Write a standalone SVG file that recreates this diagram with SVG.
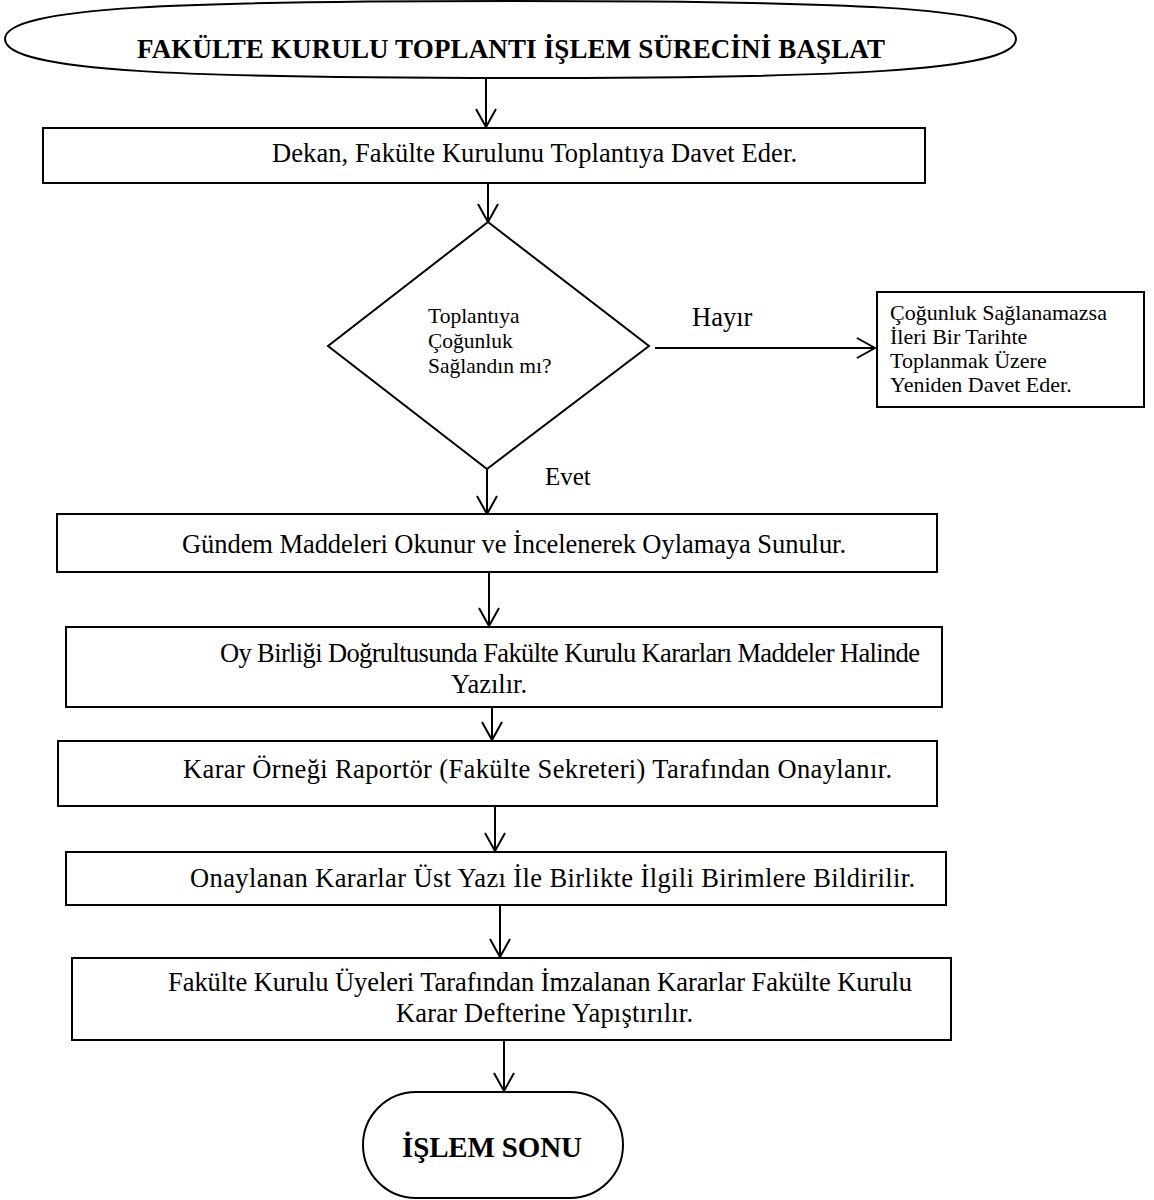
<svg xmlns="http://www.w3.org/2000/svg" width="1154" height="1200" viewBox="0 0 1154 1200">
  <style>
    .shape { fill: #fff; stroke: #000; stroke-width: 2; }
    .txt { font-family: "Liberation Serif", "Times New Roman", serif; fill: #000; }
    .main { font-size: 26.5px; }
    .small { font-size: 21.5px; }
    .bold { font-weight: bold; }
    .wire { fill: none; stroke: #000; stroke-width: 2; }
  </style>
  <defs>
    <marker id="arrow" viewBox="0 0 20 22" refX="19" refY="11" markerWidth="20" markerHeight="22" markerUnits="userSpaceOnUse" orient="auto">
      <path d="M1,1 L19,11 L1,21" fill="none" stroke="#000" stroke-width="2"/>
    </marker>
  </defs>

  <rect width="1154" height="1200" fill="#fff"/>

  <!-- start terminal: wide capsule with soft elliptical ends -->
  <g id="start">
    <path class="shape" d="M5,39 C5,6 190,1 511,1 C832,1 1016,6 1016,39 C1016,72 832,78 511,78 C190,78 5,72 5,39 Z"/>
    <text class="txt bold" x="137" y="58" font-size="27" textLength="748">FAKÜLTE KURULU TOPLANTI İŞLEM SÜRECİNİ BAŞLAT</text>
  </g>

  <g id="invite">
    <rect class="shape" x="43" y="128" width="882" height="55"/>
    <text class="txt main" x="272" y="162" textLength="525">Dekan, Fakülte Kurulunu Toplantıya Davet Eder.</text>
  </g>

  <g id="quorum">
    <polygon class="shape" points="488,222 649,346 487,469 328,346"/>
    <text class="txt small" x="428" y="323">Toplantıya</text>
    <text class="txt small" x="428" y="348">Çoğunluk</text>
    <text class="txt small" x="428" y="373">Sağlandın mı?</text>
  </g>

  <g id="reinvite">
    <rect class="shape" x="877" y="292" width="267" height="115"/>
    <text class="txt" x="890" y="320" font-size="22">Çoğunluk Sağlanamazsa</text>
    <text class="txt" x="890" y="344" font-size="22">İleri Bir Tarihte</text>
    <text class="txt" x="890" y="368" font-size="22">Toplanmak Üzere</text>
    <text class="txt" x="890" y="392" font-size="22">Yeniden Davet Eder.</text>
  </g>

  <g id="agenda">
    <rect class="shape" x="57" y="514" width="880" height="58"/>
    <text class="txt main" x="182" y="553" textLength="664">Gündem Maddeleri Okunur ve İncelenerek Oylamaya Sunulur.</text>
  </g>

  <g id="decisions">
    <rect class="shape" x="66" y="627" width="876" height="80"/>
    <text class="txt main" x="220" y="662" textLength="700">Oy Birliği Doğrultusunda Fakülte Kurulu Kararları Maddeler Halinde</text>
    <text class="txt main" x="489" y="693" text-anchor="middle">Yazılır.</text>
  </g>

  <g id="approve">
    <rect class="shape" x="58" y="741" width="879" height="65"/>
    <text class="txt main" x="183" y="778" textLength="709">Karar Örneği Raportör (Fakülte Sekreteri) Tarafından Onaylanır.</text>
  </g>

  <g id="notify">
    <rect class="shape" x="66" y="852" width="880" height="53"/>
    <text class="txt main" x="190" y="887" textLength="725">Onaylanan Kararlar Üst Yazı İle Birlikte İlgili Birimlere Bildirilir.</text>
  </g>

  <g id="archive">
    <rect class="shape" x="72" y="958" width="879" height="82"/>
    <text class="txt main" x="168" y="991" textLength="744">Fakülte Kurulu Üyeleri Tarafından İmzalanan Kararlar Fakülte Kurulu</text>
    <text class="txt main" x="396" y="1022" textLength="297">Karar Defterine Yapıştırılır.</text>
  </g>

  <g id="end">
    <rect class="shape" x="363" y="1092" width="260" height="106" rx="53" ry="53"/>
    <text class="txt bold" x="402" y="1157" font-size="29" textLength="180">İŞLEM SONU</text>
  </g>

  <!-- connectors -->
  <g id="connectors">
    <path class="wire" d="M486,78 L486,127" marker-end="url(#arrow)"/>
    <path class="wire" d="M488,183 L488,222" marker-end="url(#arrow)"/>
    <path class="wire" d="M655,348 L875,348" marker-end="url(#arrow)"/>
    <path class="wire" d="M487,469 L487,514" marker-end="url(#arrow)"/>
    <path class="wire" d="M489,572 L489,626" marker-end="url(#arrow)"/>
    <path class="wire" d="M492,707 L492,740" marker-end="url(#arrow)"/>
    <path class="wire" d="M495,806 L495,851" marker-end="url(#arrow)"/>
    <path class="wire" d="M500,905 L500,957" marker-end="url(#arrow)"/>
    <path class="wire" d="M504,1040 L504,1091" marker-end="url(#arrow)"/>
    <text class="txt main" x="692" y="326">Hayır</text>
    <text class="txt" x="545" y="485" font-size="25">Evet</text>
  </g>
</svg>
